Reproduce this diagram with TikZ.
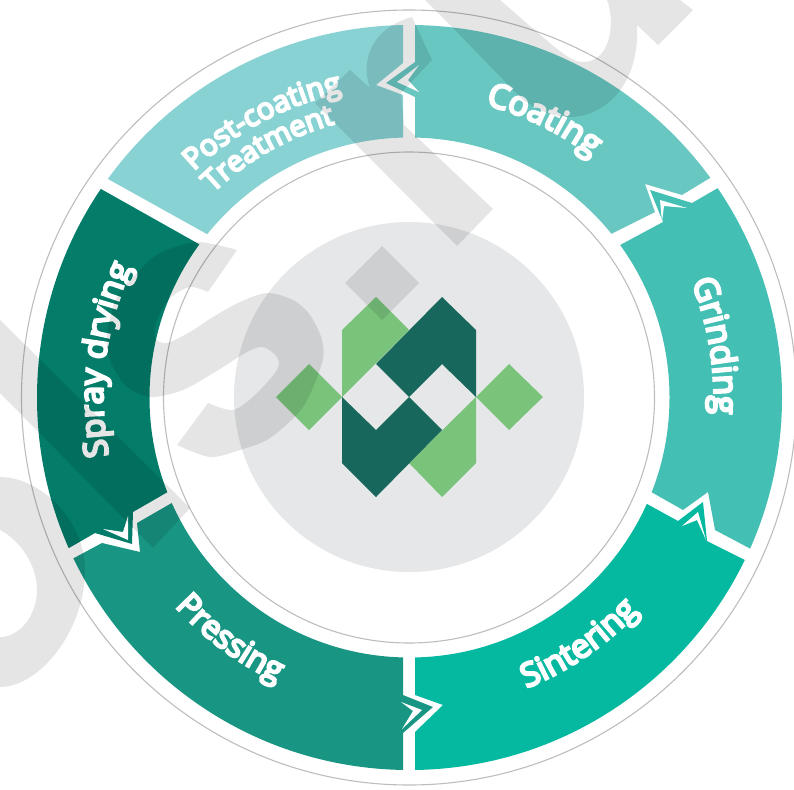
\documentclass[tikz,border=0pt]{standalone}
\usepackage{fontspec}
\setmainfont{Open Sans}
\newfontfamily\labfont{Open Sans}[FakeBold=7,LetterSpace=2]
\usetikzlibrary{decorations.text}
\definecolor{cpost}{HTML}{88D2D3}
\definecolor{ccoat}{HTML}{69C7C1}
\definecolor{cgrind}{HTML}{43BFB3}
\definecolor{csinter}{HTML}{05B9A0}
\definecolor{cpress}{HTML}{189683}
\definecolor{cspray}{HTML}{037C69}
\definecolor{cgreen}{HTML}{79C37B}
\definecolor{cdark}{HTML}{17675C}
\definecolor{cdisc}{HTML}{E6E7E8}
\definecolor{cthin}{HTML}{BDBDBD}
\tikzset{
  thinring/.style={draw=cthin,line width=1.1pt},
  sliver/.style={fill=white},
  watermark/.style={fill=black,fill opacity=0.1},
}
\newcommand{\ringlabel}[5]{%
  \path[decorate,decoration={text along path,text align={center},
    text={|\color{white}\labfont\fontsize{#4}{#4}\selectfont|#5}}]
    plot[domain=#2:#3,samples=60,variable=\t] ({409+#1*cos(\t)},{397+#1*sin(\t)});}
\begin{document}
\begin{tikzpicture}[x=1pt,y=-1pt]
\useasboundingbox (0,0) rectangle (794,789);
\draw[thinring] (409,397.5) circle[radius=387.5pt];
\draw[thinring] (409,397.5) circle[radius=245.5pt];
\fill[cdisc] (409,397) circle[radius=175pt];
% logo
\fill[cgreen] (309,364) -- (342,397) -- (309,430) -- (276,397) -- cycle;
\fill[cgreen] (509,364) -- (543,397) -- (509,430) -- (476,397) -- cycle;
\fill[cgreen] (376,297) -- (409,330) -- (342,397) -- (342,330) -- cycle;
\fill[cgreen] (476,397) -- (476,463) -- (442,497) -- (409,463) -- cycle;
\fill[cdark] (442,297) -- (476,330) -- (476,397) -- (442,364) -- (409,397) -- (376,364) -- cycle;
\fill[cdark] (342,397) -- (376,430) -- (409,397) -- (442,430) -- (376,497) -- (342,463) -- cycle;
% ring segments
\begin{scope}[even odd rule]
\clip (409.5,397.5) circle[radius=372.5pt] (409.5,397.5) circle[radius=260pt];
\fill[cpost] (403,-20) -- (403,63) -- (376,85) -- (403,95) -- (403,170) -- (231,248) -- (205,233) -- (108,179) -- (82,164) -- (100,-20) -- cycle;
\fill[ccoat] (415,-20) -- (415,62) -- (386,83) -- (415,97) -- (415,170) -- (587,248) -- (613,233) -- (655,212) -- (645,184) -- (682,195) -- (710,178) -- (736,163) -- (800,-50) -- cycle;
\fill[cgrind] (596,259) -- (622,244) -- (663,222) -- (650,190) -- (692,203) -- (718,188) -- (744,173) -- (900,400) -- (775,563) -- (749,548) -- (715,530) -- (708,492) -- (683,510) -- (653,493) -- (627,478) -- cycle;
\fill[csinter] (415,850) -- (415,732) -- (443,705) -- (415,695) -- (415,620) -- (621,489) -- (647,504) -- (678,521) -- (703,502) -- (707,541) -- (743,559) -- (769,574) -- (700,850) -- cycle;
\fill[cpress] (196,489) -- (170,504) -- (137,523) -- (140,552) -- (102,543) -- (74,558) -- (48,573) -- (100,850) -- (403,850) -- (403,733) -- (433,707) -- (403,695) -- (403,620) -- cycle;
\fill[cspray] (75,174) -- (101,189) -- (197,243) -- (223,258) -- (192,478) -- (166,493) -- (133,512) -- (132,544) -- (95,533) -- (69,548) -- (43,563) -- (-50,400) -- cycle;
\end{scope}
% white slivers inside the arrow tips
\fill[sliver] (419,65) -- (397,82) -- (419,92) -- (408,80) -- cycle;
\fill[sliver] (662,222) -- (660,200) -- (687,208) -- (664,206) -- cycle;
\fill[sliver] (682,526) -- (698,512) -- (706,540) -- (697,520) -- cycle;
\fill[sliver] (401,702) -- (422,710) -- (402,729) -- (413,711) -- cycle;
\fill[sliver] (103,529) -- (128,540) -- (128,516) -- (123,532) -- cycle;
% labels
\ringlabel{302}{256}{336}{33.5}{Coating}
\ringlabel{305}{-50}{31}{33.5}{Grinding}
\ringlabel{314}{95}{16}{33}{Sintering}
\ringlabel{314}{165.5}{87.5}{32.5}{Pressing}
\ringlabel{306}{147}{227}{33}{Spray drying}
\ringlabel{312}{200}{284}{29.5}{Post-coating}
\ringlabel{283}{198}{283}{29}{Treatment}
% watermark
\fill[watermark]
  (315,103) -- (350,70) -- (370,88) .. controls (360,60) and (372,28) .. (412,17) -- (432,60) -- (401,93) -- (404,125) -- (493,209) -- (457,246) -- cycle
  (382,246) -- (419,283) -- (382,320) -- (345,283) -- cycle
  (0,320) -- (190,508) -- (153,548) -- (0,393) -- cycle
  (425,0) -- (453,28) -- (520,97) .. controls (538,112) and (555,117) .. (573,117) .. controls (605,115) and (640,85) .. (637,25) -- (658,45) -- (693,10) -- (680,0) -- (607,0) .. controls (615,20) and (612,62) .. (583,62) .. controls (570,62) and (560,52) .. (500,0) -- cycle
  (0,477) .. controls (40,477) and (85,520) .. (85,570) .. controls (85,630) and (40,687) .. (0,687) -- (0,637) .. controls (20,637) and (37,615) .. (37,590) .. controls (37,565) and (20,540) .. (0,530) -- cycle
  (237,250) -- (208,292) -- plot[smooth] coordinates {(208,292) (190,287) (170,298) (157,320) (155,338) (167,343) (190,332) (213,317) (240,302) (267,293) (293,300) (310,315) (322,340) (322,363) (303,407) (270,438) (240,450) (210,457) (177,445)} -- (208,403) -- plot[smooth] coordinates {(208,403) (233,410) (255,395) (277,370) (277,357) (263,347) (247,352) (215,372) (183,390) (150,397) (125,385) (110,360) (107,335) (117,297) (140,270) (160,253) (197,242) (237,250)} -- cycle;
\end{tikzpicture}
\end{document}
